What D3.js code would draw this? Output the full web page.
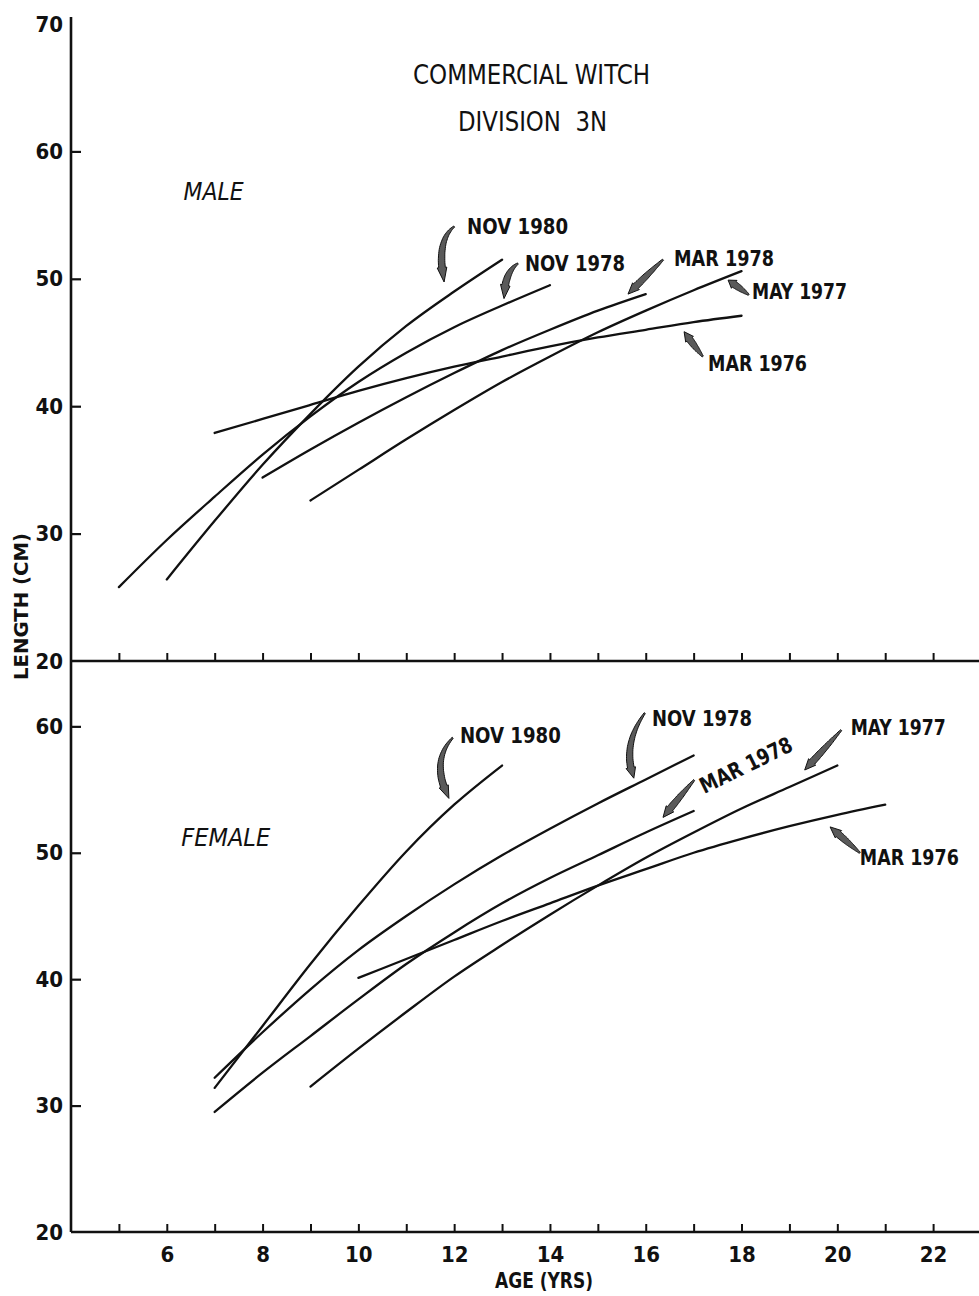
<!DOCTYPE html>
<html><head><meta charset="utf-8">
<script src="https://cdn.jsdelivr.net/npm/d3@7/dist/d3.min.js"></script>
<style>
html,body{margin:0;padding:0;background:#fff;}
svg{display:block;}
text{font-family:"DejaVu Sans Condensed","DejaVu Sans","Liberation Sans",sans-serif;fill:#111;}
</style></head><body>
<svg id="chart" width="979" height="1296"></svg>
<script>
// ---------------- DATA ----------------
const ageTicks = [5,6,7,8,9,10,11,12,13,14,15,16,17,18,19,20,21,22];
const ageTickLabels = [6,8,10,12,14,16,18,20,22];
const maleLengthTicks = [20,30,40,50,60,70];
const femaleLengthTicks = [20,30,40,50,60];
const seriesNames = ["NOV 1980","NOV 1978","MAR 1978","MAY 1977","MAR 1976"];

// MALE (length cm by age yrs)
const maleNov1980Ages = [6,7,8,9,10,11,12,13];
const maleNov1980 = [26.4,31.0,35.4,39.4,43.1,46.3,49.0,51.5];
const maleNov1978Ages = [5,6,7,8,9,10,11,12,13,14];
const maleNov1978 = [25.8,29.5,32.9,36.2,39.2,41.9,44.2,46.2,47.9,49.5];
const maleMar1978Ages = [8,9,10,11,12,13,14,15,16];
const maleMar1978 = [34.4,36.6,38.7,40.7,42.6,44.4,46.0,47.5,48.8];
const maleMay1977Ages = [9,10,11,12,13,14,15,16,17,18];
const maleMay1977 = [32.6,35.0,37.4,39.7,41.9,43.9,45.8,47.5,49.1,50.6];
const maleMar1976Ages = [7,8,9,10,11,12,13,14,15,16,17,18];
const maleMar1976 = [37.9,39.0,40.1,41.2,42.2,43.1,43.9,44.7,45.4,46.0,46.6,47.1];

// FEMALE
const femaleNov1980Ages = [7,8,9,10,11,12,13];
const femaleNov1980 = [31.4,36.3,41.2,45.8,50.1,53.8,56.9];
const femaleNov1978Ages = [7,8,9,10,11,12,13,14,15,16,17];
const femaleNov1978 = [32.2,35.8,39.2,42.3,45.0,47.5,49.8,51.9,53.9,55.8,57.7];
const femaleMar1978Ages = [7,8,9,10,11,12,13,14,15,16,17];
const femaleMar1978 = [29.5,32.6,35.5,38.4,41.2,43.7,46.0,48.0,49.8,51.6,53.3];
const femaleMay1977Ages = [9,10,11,12,13,14,15,16,17,18,19,20];
const femaleMay1977 = [31.5,34.5,37.4,40.2,42.7,45.1,47.4,49.6,51.6,53.5,55.2,56.9];
const femaleMar1976Ages = [10,11,12,13,14,15,16,17,18,19,20,21];
const femaleMar1976 = [40.1,41.6,43.1,44.6,46.0,47.4,48.7,50.0,51.1,52.1,53.0,53.8];

// ---------------- LAYOUT ----------------
const W = 979, H = 1296;
const svg = d3.select("#chart");
const x = d3.scaleLinear().domain([4,23]).range([71,981]);
const yMale = d3.scaleLinear().domain([20,70.55]).range([661,17]);
const yFemale = d3.scaleLinear().domain([20,65.17]).range([1232,661]);

const panels = [
  {y:yMale, ticks:maleLengthTicks, sex:"MALE",
   series:[[maleNov1980Ages,maleNov1980],[maleNov1978Ages,maleNov1978],[maleMar1978Ages,maleMar1978],[maleMay1977Ages,maleMay1977],[maleMar1976Ages,maleMar1976]],
   annot:[
     {label:[12.27,53.55], arrow:[[12.0,54.1],[11.62,53.0],[11.79,49.75]]},
     {label:[13.48,50.65], arrow:[[13.33,51.2],[13.05,50.5],[13.04,48.45]]},
     {label:[16.59,51.0], arrow:[[16.36,51.5],[16.0,50.2],[15.63,48.8]]},
     {label:[18.22,48.4], arrow:[[18.15,48.75],[17.93,49.35],[17.72,49.9]]},
     {label:[17.3,42.75], arrow:[[17.19,43.9],[16.99,44.85],[16.8,45.85]]}
   ],
   sexPos:[6.35,56.2]},
  {y:yFemale, ticks:femaleLengthTicks, sex:"FEMALE",
   series:[[femaleNov1980Ages,femaleNov1980],[femaleNov1978Ages,femaleNov1978],[femaleMar1978Ages,femaleMar1978],[femaleMay1977Ages,femaleMay1977],[femaleMar1976Ages,femaleMar1976]],
   annot:[
     {label:[12.12,58.7], arrow:[[11.97,59.1],[11.5,57.2],[11.89,54.3]]},
     {label:[16.13,60.0], arrow:[[15.98,61.05],[15.5,58.5],[15.75,55.9]]},
     {label:[18.09,56.95], rotate:-26, arrow:[[17.01,55.75],[16.68,54.3],[16.36,52.8]]},
     {label:[20.28,59.3], arrow:[[20.08,59.7],[19.7,58.1],[19.32,56.55]]},
     {label:[20.47,49.05], arrow:[[20.47,50.0],[20.16,51.0],[19.85,52.05]]}
   ],
   sexPos:[6.3,50.5]}
];

const labelWidth = {"NOV 1980":101,"NOV 1978":100,"MAR 1978":100,"MAY 1977":95,"MAR 1976":99};
const tickFont = '"DejaVu Sans Condensed","DejaVu Sans",sans-serif';

function featherArrow(p0,p1,p2){
  const bez=t=>[(1-t)*(1-t)*p0[0]+2*(1-t)*t*p1[0]+t*t*p2[0],(1-t)*(1-t)*p0[1]+2*(1-t)*t*p1[1]+t*t*p2[1]];
  const der=t=>[2*(1-t)*(p1[0]-p0[0])+2*t*(p2[0]-p1[0]),2*(1-t)*(p1[1]-p0[1])+2*t*(p2[1]-p1[1])];
  let len=0,prev=bez(0);
  for(let i=1;i<=50;i++){const q=bez(i/50);len+=Math.hypot(q[0]-prev[0],q[1]-prev[1]);prev=q;}
  const headLen=Math.min(11,len*0.3), headT=1-headLen/len;
  const N=24,L=[],R=[];
  for(let i=0;i<=N;i++){
    const t=headT*i/N, p=bez(t), d=der(t), m=Math.hypot(d[0],d[1]);
    const nx=-d[1]/m, ny=d[0]/m;
    const hw=0.7+2.6*Math.sin(Math.PI*0.5*i/N);
    L.push([p[0]+nx*hw,p[1]+ny*hw]); R.push([p[0]-nx*hw,p[1]-ny*hw]);
  }
  const pb=bez(headT), d=der(headT), m=Math.hypot(d[0],d[1]); const nx=-d[1]/m, ny=d[0]/m;
  const hh=4.8;
  const head=[[pb[0]+nx*hh,pb[1]+ny*hh],p2,[pb[0]-nx*hh,pb[1]-ny*hh]];
  const pts=L.concat(head).concat(R.reverse());
  return "M"+pts.map(p=>p[0].toFixed(1)+","+p[1].toFixed(1)).join("L")+"Z";
}

panels.forEach(P=>{
  const g=svg.append("g");
  const y=P.y;
  const [yb,yt]=y.range();
  g.append("line").attr("x1",x(4)).attr("x2",W).attr("y1",yb).attr("y2",yb).attr("stroke","#111").attr("stroke-width",2.6);
  g.append("line").attr("x1",x(4)).attr("x2",x(4)).attr("y1",yt).attr("y2",yb).attr("stroke","#111").attr("stroke-width",2.6);
  const xa=g.append("g").attr("transform",`translate(0,${yb})`)
    .call(d3.axisBottom(x).tickValues(ageTicks).tickSizeInner(-8).tickSizeOuter(0).tickFormat(""));
  xa.select(".domain").remove();
  xa.selectAll(".tick line").attr("stroke","#111").attr("stroke-width",2);
  const ya=g.append("g").attr("transform",`translate(${x(4)},0)`)
    .call(d3.axisLeft(y).tickValues(P.ticks).tickSizeInner(-10).tickSizeOuter(0).tickPadding(8).tickFormat(d3.format("d")));
  ya.select(".domain").remove();
  ya.selectAll(".tick line").attr("stroke","#111").attr("stroke-width",2.2)
    .attr("opacity",d=>(d===P.ticks[0]||d===70)?0:1);
  ya.selectAll(".tick text").attr("font-size",22).attr("font-weight",600).attr("fill","#111")
    .style("font-family",tickFont);
  const line=d3.line().x(d=>x(d[0])).y(d=>y(d[1])).curve(d3.curveMonotoneX);
  P.series.forEach(([ages,vals])=>{
    g.append("path").datum(ages.map((a,i)=>[a,vals[i]]))
      .attr("d",line).attr("fill","none").attr("stroke","#111").attr("stroke-width",2.3).attr("stroke-linecap","round");
  });
  P.annot.forEach((A,i)=>{
    const name=seriesNames[i];
    const pts=A.arrow.map(p=>[x(p[0]),y(p[1])]);
    g.append("path").attr("d",featherArrow(pts[0],pts[1],pts[2]))
      .attr("fill","#5a5a5a").attr("stroke","#111").attr("stroke-width",1);
    const t=g.append("text").text(name).attr("font-size",22).attr("font-weight",700)
      .attr("textLength",labelWidth[name]).attr("lengthAdjust","spacingAndGlyphs");
    if(A.rotate!==undefined){
      t.attr("text-anchor","middle").attr("dy","0.36em")
       .attr("transform",`translate(${x(A.label[0])},${y(A.label[1])}) rotate(${A.rotate})`);
    } else {
      t.attr("x",x(A.label[0])).attr("y",y(A.label[1]));
    }
  });
  g.append("text").text(P.sex).attr("x",x(P.sexPos[0])).attr("y",y(P.sexPos[1]))
    .attr("font-size",25).attr("font-style","italic")
    .attr("textLength",P.sex==="MALE"?60:89).attr("lengthAdjust","spacingAndGlyphs");
});

const xl=svg.append("g").attr("transform",`translate(0,${yFemale(20)})`)
  .call(d3.axisBottom(x).tickValues(ageTickLabels).tickSize(0).tickPadding(14).tickFormat(d3.format("d")));
xl.select(".domain").remove();
xl.selectAll(".tick text").attr("font-size",22).attr("font-weight",600).attr("fill","#111")
  .style("font-family",tickFont);

svg.append("text").text("COMMERCIAL WITCH").attr("x",413).attr("y",84).attr("font-size",27)
  .attr("textLength",237).attr("lengthAdjust","spacingAndGlyphs");
svg.append("text").text("DIVISION  3N").attr("x",458).attr("y",131).attr("font-size",27)
  .attr("textLength",149).attr("lengthAdjust","spacingAndGlyphs").style("white-space","pre");
svg.append("text").text("AGE (YRS)").attr("x",495).attr("y",1288).attr("font-size",21).attr("font-weight",600)
  .attr("textLength",98).attr("lengthAdjust","spacingAndGlyphs");
svg.append("text").text("LENGTH (CM)").attr("transform","translate(28,680) rotate(-90)").attr("font-size",19).attr("font-weight",600)
  .attr("textLength",147).attr("lengthAdjust","spacingAndGlyphs");
</script>
</body></html>
